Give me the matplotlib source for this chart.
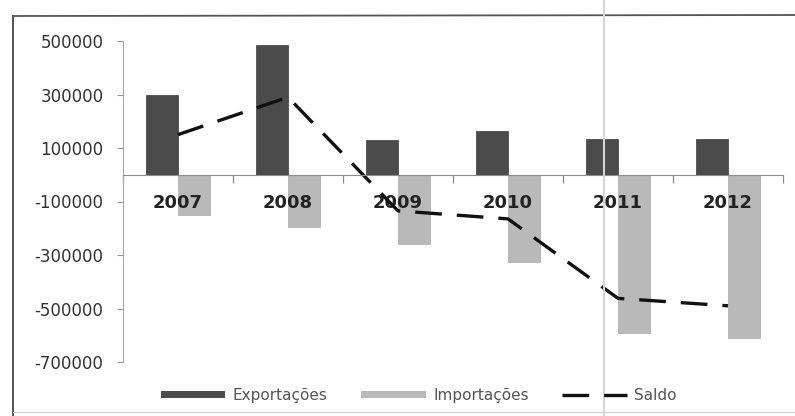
import matplotlib
matplotlib.use("Agg")
import matplotlib.pyplot as plt
from matplotlib.lines import Line2D
from matplotlib.patches import Patch
import numpy as np

anos = ["2007", "2008", "2009", "2010", "2011", "2012"]
exportacoes = [300000, 485000, 130000, 165000, 135000, 135000]
importacoes = [-150000, -195000, -260000, -325000, -590000, -610000]
saldo = [150000, 290000, -135000, -165000, -462000, -490000]
yticks = [500000, 300000, 100000, -100000, -300000, -500000, -700000]

cor_exp = "#4b4b4b"
cor_imp = "#b9b9b9"

fig = plt.figure(figsize=(7.95, 4.16), dpi=100)
ax = fig.add_axes([123 / 795, 1 - 362 / 416, 660 / 795, 321 / 416])

x = np.arange(len(anos))
w = 0.29
ax.bar(x - w / 2, exportacoes, w, color=cor_exp, edgecolor="#3a3a3a", linewidth=0.5)
ax.bar(x + w / 2, importacoes, w, color=cor_imp, edgecolor="#aaaaaa", linewidth=0.5)
ax.plot(x, saldo, color="#111111", linewidth=2.4, dashes=(8, 4.5), solid_capstyle="butt")

ax.set_xlim(-0.5, len(anos) - 0.5)
ax.set_ylim(-700000, 500000)
ax.set_yticks(yticks)
ax.set_yticklabels([str(v) for v in yticks])
ax.tick_params(axis="y", length=4, width=0.8, color="#999999", pad=10,
               labelsize=12, labelcolor="#333333")

# eixo x na linha do zero, anos logo abaixo
ax.spines["bottom"].set_position(("data", 0))
ax.spines["bottom"].set_color("#8c8c8c")
ax.spines["left"].set_color("#aaaaaa")
ax.spines["left"].set_linewidth(0.8)
ax.spines["top"].set_visible(False)
ax.spines["right"].set_visible(False)
ax.set_xticks(x)
ax.set_xticklabels(anos, fontsize=13, fontweight="bold", color="#222222")
ax.tick_params(axis="x", which="major", length=0, pad=14)
ax.set_xticks(np.arange(-0.5, len(anos)), minor=True)
ax.tick_params(axis="x", which="minor", length=6, width=0.9, color="#888888")

handles = [
    Patch(facecolor=cor_exp, edgecolor="none", label="Exportações"),
    Patch(facecolor=cor_imp, edgecolor="none", label="Importações"),
    Line2D([0], [0], color="#111111", linewidth=2.4, dashes=(8, 4.5), label="Saldo"),
]
leg = fig.legend(handles=handles, loc="center", bbox_to_anchor=(0.527, 0.05), ncol=3,
                 frameon=False, fontsize=11, handlelength=4.2, handleheight=0.35,
                 handletextpad=0.5, columnspacing=2.2)
for t in leg.get_texts():
    t.set_color("#555555")

# moldura do gráfico
fig.add_artist(Line2D([13 / 795, 13 / 795], [0, 1 - 16 / 416], color="#444444", lw=1.3))
fig.add_artist(Line2D([13 / 795, 1], [1 - 16 / 416, 1 - 15 / 416], color="#555555", lw=1.3))
fig.add_artist(Line2D([13 / 795, 1], [1 - 412 / 416] * 2, color="#d8d8d8", lw=1))
fig.add_artist(Line2D([604 / 795] * 2, [0, 1], color="#d6d6d6", lw=1.5))

fig.savefig("out.png", dpi=100)
